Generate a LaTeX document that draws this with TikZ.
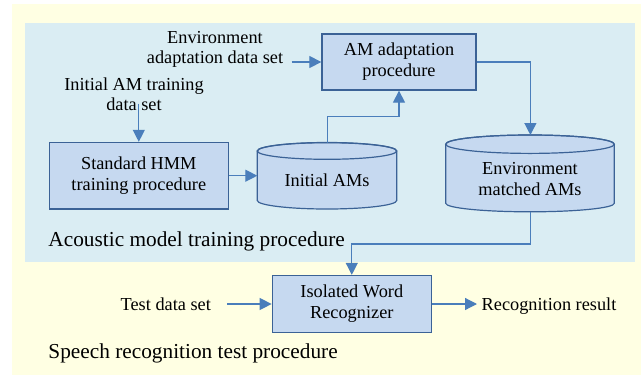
\documentclass[tikz,border=0pt]{standalone}
\usepackage{fontspec}
\setmainfont{Liberation Serif}
\usetikzlibrary{arrows.meta}
\definecolor{yelbg}{HTML}{FFFFE3}
\definecolor{bluebg}{HTML}{DAEDF3}
\definecolor{boxfill}{HTML}{C6D9F0}
\definecolor{boxline}{HTML}{3B6296}
\definecolor{conn}{HTML}{4A7EBB}
\begin{document}
\begin{tikzpicture}[x=1pt,y=-1pt,
  procbox/.style={draw=boxline, fill=boxfill, line width=1.3pt, align=center,
    font=\fontsize{18.3}{21}\selectfont, inner sep=0pt},
  txt/.style={align=center, font=\fontsize{18.3}{20.5}\selectfont, inner sep=0pt},
  lbl/.style={font=\fontsize{21.3}{24}\selectfont, inner sep=0pt, anchor=base west},
  arr/.style={draw=conn, line width=1.2pt, -{Triangle[length=12pt,width=12pt]}},
  cyl/.style={draw=boxline, fill=boxfill, line width=1.2pt}]
\useasboundingbox (0,0) rectangle (641,376);
% backgrounds
\fill[yelbg] (12,4) rectangle (641,375);
\fill[bluebg] (25,23) rectangle (635,262);

% boxes
\node[procbox, minimum width=154pt, minimum height=56pt] (adapt) at (399,62) {AM adaptation\\procedure};
\node[procbox, minimum width=179pt, minimum height=66.5pt] (hmm) at (138.8,175.7) {Standard HMM\\training procedure};
\node[procbox, minimum width=159pt, minimum height=57pt] (iso) at (351.8,304) {Isolated Word\\Recognizer};

% cylinder: Initial AMs
\filldraw[cyl] (257.3,151) -- (257.3,200.5)
  arc[start angle=180, end angle=360, x radius=69.7pt, y radius=8.5pt]
  -- (396.7,151)
  arc[start angle=0, end angle=180, x radius=69.7pt, y radius=8.5pt] -- cycle;
\draw[cyl, fill=none] (327,151) ellipse [x radius=69.7pt, y radius=8.3pt];
\node[txt] (initams) at (327,180.5) {Initial AMs};
\coordinate (initW) at (257.3,175.7);
\coordinate (initN) at (327.3,142.7);

% cylinder: Environment matched AMs
\filldraw[cyl] (445.7,144.2) -- (445.7,203.3)
  arc[start angle=180, end angle=360, x radius=84.3pt, y radius=8.5pt]
  -- (614.3,144.2)
  arc[start angle=0, end angle=180, x radius=84.3pt, y radius=9.2pt] -- cycle;
\draw[cyl, fill=none] (530,144.2) ellipse [x radius=84.3pt, y radius=9.2pt];
\node[txt] (envams) at (530,179) {Environment\\matched AMs};
\coordinate (envN) at (530.4,135);
\coordinate (envS) at (530.4,211.7);

% free texts
\node[txt] (envdata) at (215,49.5) {Environment\\adaptation data set};
\node[txt] (initdata) at (134,94) {Initial AM training\\data set};
\node[txt, anchor=base west] (testdata) at (120.5,310) {Test data set};
\node[txt, anchor=base west] (result) at (481.5,310.5) {Recognition result};
\node[lbl] (acoustic) at (48.3,246) {Acoustic model training procedure};
\node[lbl] (speech) at (48.3,358.3) {Speech recognition test procedure};

% connector anchor points
\coordinate (envin) at (291.5,62);
\coordinate (initin) at (138.8,103.5);
\coordinate (k1) at (327.3,116.7);
\coordinate (k2) at (530.4,244);
\coordinate (testout) at (227.4,304);
\coordinate (resin) at (477,304);

% connectors
\draw[arr] (envin) -- (adapt.west);
\draw[arr] (initin) -- (hmm.north);
\draw[arr] (hmm.east) -- (initW);
\draw[arr] (initN) -- (k1) -| (adapt.south);
\draw[arr] (adapt.east) -| (envN);
\draw[arr] (envS) -- (k2) -| (iso.north);
\draw[arr] (testout) -- (iso.west);
\draw[arr] (iso.east) -- (resin);
\end{tikzpicture}
\end{document}
